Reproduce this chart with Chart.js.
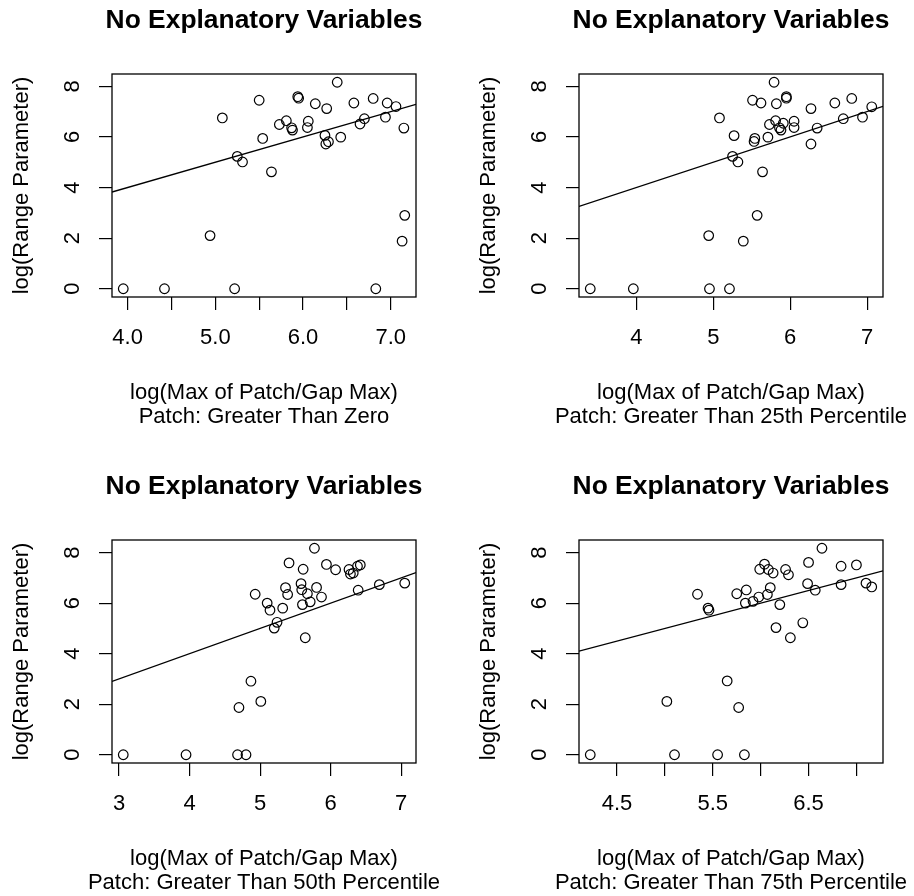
<!DOCTYPE html>
<html>
<head>
<meta charset="utf-8">
<title>No Explanatory Variables</title>
<script src="https://cdn.jsdelivr.net/npm/chart.js@4.4.0/dist/chart.umd.min.js"></script>
<style>
  body { margin: 0; background: #fff; }
  #wrap { position: relative; width: 914px; height: 896px; }
  canvas { position: absolute; }
</style>
</head>
<body>
<div id="wrap">
  <canvas id="c1" width="447" height="430" style="left:0px;top:0px"></canvas>
  <canvas id="c2" width="447" height="430" style="left:467px;top:0px"></canvas>
  <canvas id="c3" width="447" height="430" style="left:0px;top:466px"></canvas>
  <canvas id="c4" width="447" height="430" style="left:467px;top:466px"></canvas>
</div>
<script>
// values
const x1 = [3.95, 4.42, 5.22, 6.83, 4.94, 7.13, 7.16, 5.08, 5.50, 5.54, 5.25, 5.31, 5.64, 5.73, 5.81, 5.87, 5.88, 5.94, 5.95, 6.06, 6.05, 6.14, 6.27, 6.25, 6.26, 6.29, 6.39, 6.43, 6.58, 6.65, 6.70, 6.80, 6.94, 6.96, 7.06, 7.15];
const y1 = [0, 0, 0, 0, 2.10, 1.88, 2.90, 6.75, 7.45, 5.94, 5.23, 5.01, 4.62, 6.49, 6.64, 6.36, 6.27, 7.59, 7.53, 6.62, 6.37, 7.31, 7.12, 6.06, 5.72, 5.81, 8.16, 5.99, 7.34, 6.51, 6.72, 7.52, 6.78, 7.34, 7.20, 6.35];

const x2 = [3.40, 3.96, 4.95, 5.21, 4.94, 5.39, 5.57, 5.79, 5.95, 5.95, 6.80, 5.51, 5.62, 5.82, 6.58, 7.06, 6.27, 5.08, 6.69, 6.94, 5.81, 6.05, 5.73, 5.91, 5.86, 5.88, 6.05, 6.35, 5.27, 5.54, 5.53, 5.71, 6.27, 5.25, 5.32, 5.64];
const y2 = [0, 0, 0, 0, 2.10, 1.88, 2.90, 8.16, 7.59, 7.53, 7.52, 7.45, 7.34, 7.31, 7.34, 7.19, 7.12, 6.75, 6.72, 6.78, 6.64, 6.62, 6.49, 6.54, 6.36, 6.27, 6.37, 6.35, 6.05, 5.94, 5.82, 5.99, 5.72, 5.23, 5.01, 4.62];

const x3 = [3.06, 3.95, 4.68, 4.80, 4.87, 5.01, 4.70, 5.77, 5.41, 5.94, 6.26, 6.28, 6.32, 6.38, 6.42, 5.61, 6.07, 5.58, 5.36, 5.80, 5.59, 5.39, 5.67, 5.87, 4.93, 6.39, 6.69, 7.05, 5.10, 5.14, 5.32, 5.60, 5.71, 5.24, 5.20, 5.64];
const y3 = [0, 0, 0, 0, 2.91, 2.11, 1.87, 8.17, 7.59, 7.53, 7.33, 7.15, 7.19, 7.46, 7.51, 7.34, 7.32, 6.77, 6.61, 6.62, 6.53, 6.34, 6.37, 6.24, 6.35, 6.51, 6.73, 6.79, 6.00, 5.72, 5.80, 5.94, 6.05, 5.24, 5.01, 4.63];

const x4 = [4.22, 5.10, 5.55, 5.83, 5.65, 5.02, 5.77, 6.64, 6.50, 6.84, 7.00, 6.04, 5.99, 6.08, 6.13, 6.26, 6.29, 5.34, 5.75, 5.85, 6.10, 6.07, 5.98, 5.92, 5.84, 5.45, 5.46, 6.20, 6.49, 6.57, 6.84, 7.10, 7.16, 6.16, 6.44, 6.31];
const y4 = [0, 0, 0, 0, 2.92, 2.11, 1.87, 8.17, 7.61, 7.46, 7.51, 7.54, 7.34, 7.33, 7.19, 7.33, 7.12, 6.35, 6.37, 6.52, 6.61, 6.34, 6.24, 6.07, 6.00, 5.80, 5.72, 5.94, 6.77, 6.51, 6.73, 6.79, 6.64, 5.03, 5.22, 4.63];

// fitted line in each panel (intercept, slope)
const fitIntercept = [0, 0, 0, 0];
const fitSlope = [1, 1, 1, 1];

// tick positions and labels
const xTicks1 = [4.0, 4.5, 5.0, 5.5, 6.0, 6.5, 7.0];
const xLabels1 = ["4.0", "", "5.0", "", "6.0", "", "7.0"];
const xTicks2 = [4, 5, 6, 7];
const xLabels2 = ["4", "5", "6", "7"];
const xTicks3 = [3, 4, 5, 6, 7];
const xLabels3 = ["3", "4", "5", "6", "7"];
const xTicks4 = [4.5, 5.0, 5.5, 6.0, 6.5, 7.0];
const xLabels4 = ["4.5", "", "5.5", "", "6.5", ""];
const yTicks = [0, 2, 4, 6, 8];
const yLabels = ["0", "2", "4", "6", "8"];

const mainTitle = "No Explanatory Variables";
const xTitle = "log(Max of Patch/Gap Max)";
const yTitle = "log(Range Parameter)";
const subTitles = [
    "Patch: Greater Than Zero",
    "Patch: Greater Than 25th Percentile",
    "Patch: Greater Than 50th Percentile",
    "Patch: Greater Than 75th Percentile"
];

const FONT = "'Liberation Sans', Arial, Helvetica, sans-serif";
Chart.defaults.font.family = FONT;
Chart.defaults.color = "#000";
Chart.defaults.animation = false;

// box round the plot region, like R's box()
const plotBox = {
    id: "plotBox",
    afterDraw(chart) {
        const {ctx, chartArea} = chart;
        ctx.save();
        ctx.strokeStyle = "#000";
        ctx.lineWidth = 1.3;
        ctx.strokeRect(chartArea.left, chartArea.top, chartArea.right - chartArea.left, chartArea.bottom - chartArea.top);
        ctx.restore();
    }
};

// main title and two-line x title, centred on the plot region;
// drawn here so the long lines are not squeezed to the plot width
const panelText = {
    id: "panelText",
    afterDraw(chart, args, opts) {
        const {ctx, chartArea} = chart;
        let cx = (chartArea.left + chartArea.right) / 2;
        ctx.save();
        ctx.fillStyle = "#000";
        ctx.textAlign = "center";
        ctx.textBaseline = "alphabetic";
        ctx.font = "bold 26.4px " + FONT;
        ctx.fillText(opts.title, cx, chartArea.top - 46.3);
        ctx.font = "22px " + FONT;
        opts.lines.forEach((t, i) => {
            ctx.fillText(t, cx, chartArea.bottom + 102.3 + i * 23.3);
        });
        ctx.restore();
    }
};

// R pads the data range by 4% on each side
function rRange(v) {
    let lo = Math.min(...v);
    let hi = Math.max(...v);
    let pad = (hi - lo) * 0.04;
    return [lo - pad, hi + pad];
}

function makePanel(id, xs, ys, xTicks, xLabels, subTitle, a, b) {
    const [xMin, xMax] = rRange(xs);
    const [yMin, yMax] = rRange(ys);
    let points = xs.map((x, i) => ({x: x, y: ys[i]}));
    let line = [{x: xMin, y: a + b * xMin}, {x: xMax, y: a + b * xMax}];

    new Chart(document.getElementById(id), {
        type: "scatter",
        data: {
            datasets: [{
                data: points,
                showLine: false,
                pointRadius: 4.8,
                pointBorderWidth: 1.2,
                pointBorderColor: "#000",
                pointBackgroundColor: "rgba(0,0,0,0)"
            }, {
                data: line,
                showLine: true,
                borderColor: "#000",
                borderWidth: 1.3,
                pointRadius: 0
            }]
        },
        options: {
            responsive: false,
            events: [],
            layout: {padding: {left: 0, right: 31, top: 74, bottom: 0}},
            plugins: {
                legend: {display: false},
                tooltip: {enabled: false},
                title: {display: false},
                panelText: {title: mainTitle, lines: [xTitle, subTitle]}
            },
            scales: {
                x: {
                    type: "linear",
                    min: xMin,
                    max: xMax,
                    afterBuildTicks: (s) => { s.ticks = xTicks.map(v => ({value: v})); },
                    afterFit: (s) => { s.height = 133; },
                    border: {display: false},
                    grid: {drawOnChartArea: false, tickLength: 13, color: "#000", lineWidth: 1.2},
                    ticks: {
                        autoSkip: false,
                        maxRotation: 0,
                        padding: 14.5,
                        font: {size: 22},
                        callback: (value, index) => xLabels[index]
                    }
                },
                y: {
                    type: "linear",
                    min: yMin,
                    max: yMax,
                    afterBuildTicks: (s) => { s.ticks = yTicks.map(v => ({value: v})); },
                    afterFit: (s) => { s.width = 112; },
                    border: {display: false},
                    grid: {drawOnChartArea: false, tickLength: 13, color: "#000", lineWidth: 1.2},
                    ticks: {
                        autoSkip: false,
                        minRotation: 90,
                        maxRotation: 90,
                        crossAlign: "center",
                        padding: 19.6,
                        font: {size: 22},
                        callback: (value, index) => yLabels[index]
                    },
                    title: {
                        display: true,
                        text: yTitle,
                        font: {size: 22},
                        padding: {top: 8.6, bottom: 0}
                    }
                }
            }
        },
        plugins: [plotBox, panelText]
    });
}

makePanel("c1", x1, y1, xTicks1, xLabels1, subTitles[0], fitIntercept[0], fitSlope[0]);
makePanel("c2", x2, y2, xTicks2, xLabels2, subTitles[1], fitIntercept[1], fitSlope[1]);
makePanel("c3", x3, y3, xTicks3, xLabels3, subTitles[2], fitIntercept[2], fitSlope[2]);
makePanel("c4", x4, y4, xTicks4, xLabels4, subTitles[3], fitIntercept[3], fitSlope[3]);
</script>
</body>
</html>
